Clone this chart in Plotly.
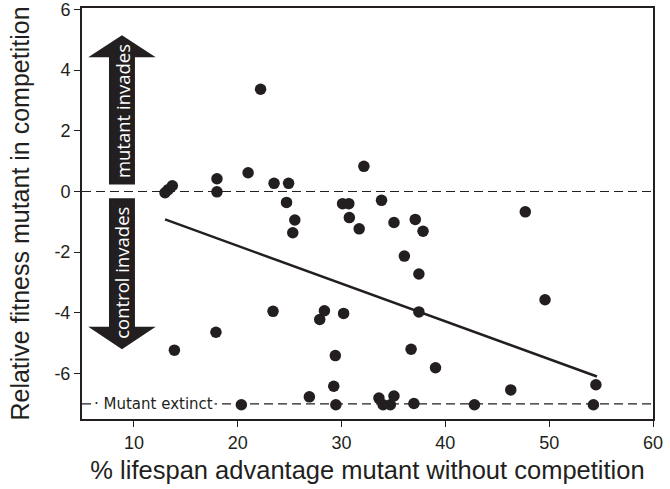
import plotly.graph_objects as go

# lifespan advantage (%) vs relative fitness
lifespan_adv = [
    13.0, 13.3, 13.7, 13.9, 18.0, 18.0, 17.9, 20.35, 21.0, 22.2,
    23.4, 23.5, 24.9, 24.7, 25.5, 25.3, 26.9, 27.9, 28.35, 29.4,
    29.25, 29.45, 30.1, 30.7, 30.75, 30.2, 31.7, 32.15, 33.85, 33.6,
    34.0, 34.7, 35.05, 35.05, 36.05, 36.7, 36.97, 37.1, 37.85, 37.45,
    37.45, 39.05, 42.8, 46.3, 47.7, 49.6, 54.5, 54.26,
]
rel_fitness = [
    -0.04, 0.06, 0.19, -5.23, 0.42, -0.01, -4.64, -7.03, 0.62, 3.37,
    -3.95, 0.27, 0.27, -0.36, -0.94, -1.36, -6.77, -4.22, -3.93, -5.41,
    -6.42, -7.03, -0.40, -0.40, -0.86, -4.02, -1.23, 0.83, -0.29, -6.81,
    -7.03, -7.03, -6.74, -1.02, -2.13, -5.20, -6.99, -0.92, -1.31, -2.72,
    -3.97, -5.81, -7.03, -6.54, -0.67, -3.57, -6.37, -7.03,
]

# regression line end points
fit_x = [13.0, 54.6]
fit_y = [-0.92, -6.1]

extinct_level = -7.0
x_ticks = [10, 20, 30, 40, 50, 60]
y_ticks = [6, 4, 2, 0, -2, -4, -6]
y_tick_text = ["6", "4", "2", "0", "-2", "-4", "-6"]

ink = "#231f20"
font = "Liberation Sans, Arial, sans-serif"
arrow_font = "Open Sans, Noto Sans, sans-serif"

fig = go.Figure()

fig.add_trace(go.Scatter(
    x=fit_x, y=fit_y,
    mode="lines",
    line=dict(color=ink, width=2.5),
    hoverinfo="skip",
))
fig.add_trace(go.Scatter(
    x=lifespan_adv, y=rel_fitness,
    mode="markers",
    marker=dict(color=ink, size=11.5, line=dict(width=0)),
))

# reference lines
fig.add_hline(y=0, line=dict(color=ink, width=1.2, dash="9px,5px"))
fig.add_hline(y=extinct_level, line=dict(color=ink, width=1.2, dash="9px,5px"))

# big arrows
up_arrow = "M 7.6 0.23 L 7.6 4.43 L 5.6 4.43 L 8.85 5.15 L 12.1 4.43 L 10.1 4.43 L 10.1 0.23 Z"
down_arrow = "M 7.6 -0.22 L 7.6 -4.46 L 5.6 -4.46 L 8.85 -5.2 L 12.1 -4.46 L 10.1 -4.46 L 10.1 -0.22 Z"
for p in (up_arrow, down_arrow):
    fig.add_shape(type="path", path=p, xref="x", yref="y",
                  fillcolor=ink, line=dict(width=0), layer="above")

fig.add_annotation(x=8.85, y=2.65, text="mutant invades", showarrow=False,
                   textangle=-90, font=dict(color="white", size=18.5, family=arrow_font))
fig.add_annotation(x=8.85, y=-2.68, text="control invades", showarrow=False,
                   textangle=-90, font=dict(color="white", size=18.5, family=arrow_font))
fig.add_annotation(x=6.0, y=extinct_level, text="· Mutant extinct", showarrow=False,
                   xanchor="left", bgcolor="white", borderpad=1,
                   font=dict(color=ink, size=15, family="DejaVu Sans, sans-serif"))

fig.update_layout(
    width=670, height=489,
    showlegend=False,
    plot_bgcolor="white",
    paper_bgcolor="white",
    margin=dict(l=82, r=17, t=8, b=70),
    font=dict(family=font, color=ink),
)
fig.update_xaxes(
    range=[5, 60], tickvals=x_ticks, ticks="outside", ticklen=6,
    tickcolor=ink, showgrid=False, zeroline=False, automargin=False,
    ticklabeloverflow="allow",
    showline=True, linecolor=ink, linewidth=2, mirror=True,
    tickfont=dict(size=18),
    title=dict(text="% lifespan advantage mutant without competition",
               font=dict(size=25.5), standoff=10),
)
fig.update_yaxes(
    range=[-7.5, 6.05], tickvals=y_ticks, ticktext=y_tick_text,
    ticks="outside", ticklen=6, tickcolor=ink, showgrid=False, zeroline=False,
    automargin=False, ticklabeloverflow="allow",
    showline=True, linecolor=ink, linewidth=2, mirror=True,
    tickfont=dict(size=18),
    title=dict(text="Relative fitness mutant in competition",
               font=dict(size=25), standoff=18),
)

fig.write_html(
    "out.html",
    config={"displayModeBar": False},
    post_script="document.body.style.margin='0';document.body.style.overflow='hidden';",
)
